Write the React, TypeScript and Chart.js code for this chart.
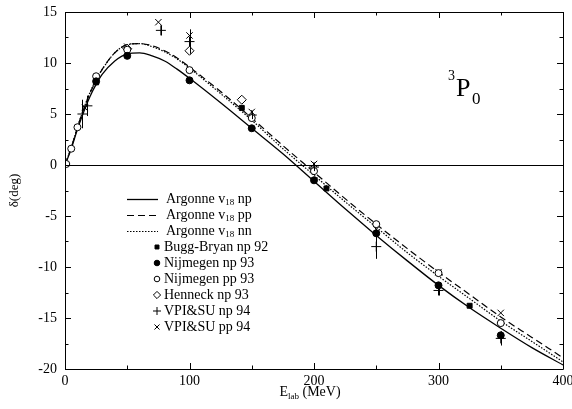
import React, { useEffect, useRef } from 'react';
import { Chart, registerables } from 'chart.js';
import { drawPoint } from 'chart.js/helpers';

Chart.register(...registerables);

// ---- Data ----
const curveE = [0, 2, 5, 10, 15, 20, 25, 30, 40, 50, 60, 70, 80, 90, 100, 125, 150, 175, 200, 225, 250, 275, 300, 325, 350, 375, 400];
const argonneNp = [0, 0.6, 1.6, 3.5, 5.2, 6.7, 7.9, 8.9, 10.2, 10.9, 11.0, 10.7, 10.2, 9.4, 8.5, 6.1, 3.6, 1.1, -1.6, -4.3, -6.9, -9.4, -11.8, -14.0, -16.0, -17.9, -19.6];
const argonnePp = [0, 0.7, 1.7, 3.7, 5.5, 7.0, 8.3, 9.4, 11.0, 11.8, 11.9, 11.7, 11.2, 10.5, 9.6, 7.2, 4.6, 1.9, -0.7, -3.3, -5.8, -8.2, -10.5, -12.7, -14.9, -16.9, -18.9];
const argonneNn = [0, 0.7, 1.7, 3.7, 5.5, 7.1, 8.4, 9.4, 11.0, 11.8, 11.9, 11.6, 11.1, 10.4, 9.5, 7.0, 4.4, 1.6, -1.0, -3.6, -6.1, -8.6, -10.9, -13.1, -15.3, -17.3, -19.3];

const buggE = [25, 142, 210, 325];
const buggD = [8.1, 5.6, -2.3, -13.8];
const nijNpE = [25, 50, 100, 150, 200, 250, 300, 350];
const nijNpD = [8.2, 10.7, 8.3, 3.6, -1.5, -6.7, -11.8, -16.7];
const nijPpE = [1, 5, 10, 25, 50, 100, 150, 200, 250, 300, 350];
const nijPpD = [0.1, 1.6, 3.7, 8.7, 11.3, 9.3, 4.6, -0.6, -5.8, -10.6, -15.5];
const henE = [50, 100, 142];
const henD = [11.4, 11.2, 6.4];
const vpiNpE = [14, 18, 77, 100, 150, 200, 250, 300, 350];
const vpiNpD = [5.0, 5.8, 13.2, 12.1, 4.9, -0.2, -8.0, -12.3, -17.0];
const vpiNpErr = [1.4, 1.0, 0.5, 1.2, 0.4, 0.4, 1.2, 0.5, 0.7];
const vpiPpE = [16, 50, 75, 100, 150, 200, 250, 300, 350];
const vpiPpD = [5.6, 11.6, 14.0, 12.7, 5.2, 0.1, -6.3, -10.5, -14.5];

const xTickValues = [0, 100, 200, 300, 400];
const yTickValues = [-20, -15, -10, -5, 0, 5, 10, 15];

const curveLabels = [
  { main: 'Argonne v', sub: '18', tail: ' np' },
  { main: 'Argonne v', sub: '18', tail: ' pp' },
  { main: 'Argonne v', sub: '18', tail: ' nn' },
];
const markerLabels = ['Bugg-Bryan np 92', 'Nijmegen np 93', 'Nijmegen pp 93', 'Henneck np 93', 'VPI&SU np 94', 'VPI&SU pp 94'];

const SERIF = "'Liberation Serif', 'DejaVu Serif', serif";

const toPts = (xs: number[], ys: number[]) => xs.map((x, i) => ({ x, y: ys[i] }));

const curveStyles = [
  { dash: [] as number[], width: 1.3 },
  { dash: [7, 4], width: 1.2 },
  { dash: [1.5, 1.5], width: 1.2 },
];
const markerStyles = [
  { pointStyle: 'rect', radius: 3.5, fill: '#000' },
  { pointStyle: 'circle', radius: 3.5, fill: '#000' },
  { pointStyle: 'circle', radius: 3.5, fill: '#fff' },
  { pointStyle: 'rectRot', radius: 4.5, fill: '#fff' },
  { pointStyle: 'cross', radius: 5, fill: '#000' },
  { pointStyle: 'crossRot', radius: 4.5, fill: '#000' },
];

const frameTicksPlugin = {
  id: 'frameTicks',
  afterDraw(chart: any) {
    const { ctx, chartArea } = chart;
    const { left, right, top, bottom } = chartArea;
    const xs = chart.scales.x;
    const ys = chart.scales.y;
    ctx.save();
    ctx.strokeStyle = '#000';
    ctx.lineWidth = 1;
    ctx.beginPath();
    ctx.rect(Math.round(left) + 0.5, Math.round(top) + 0.5, Math.round(right - left), Math.round(bottom - top));
    ctx.stroke();
    ctx.beginPath();
    for (let v = xs.min; v <= xs.max; v += 50) {
      const px = Math.round(xs.getPixelForValue(v)) + 0.5;
      const len = v % 100 === 0 ? 6 : 3.5;
      ctx.moveTo(px, bottom); ctx.lineTo(px, bottom - len);
      ctx.moveTo(px, top); ctx.lineTo(px, top + len);
    }
    for (let v = ys.min; v <= ys.max; v += 2.5) {
      const py = Math.round(ys.getPixelForValue(v)) + 0.5;
      const len = v % 5 === 0 ? 6 : 3.5;
      ctx.moveTo(left, py); ctx.lineTo(left + len, py);
      ctx.moveTo(right, py); ctx.lineTo(right - len, py);
    }
    ctx.stroke();
    ctx.restore();
  },
};

const errorBarPlugin = {
  id: 'errorBars',
  afterDatasetsDraw(chart: any) {
    const { ctx } = chart;
    const ys = chart.scales.y;
    ctx.save();
    ctx.strokeStyle = '#000';
    ctx.lineWidth = 1;
    chart.data.datasets.forEach((ds: any, i: number) => {
      if (!ds.errors) return;
      const meta = chart.getDatasetMeta(i);
      meta.data.forEach((pt: any, j: number) => {
        const d = ds.data[j].y;
        const e = ds.errors[j];
        ctx.beginPath();
        ctx.moveTo(Math.round(pt.x) + 0.5, ys.getPixelForValue(d + e));
        ctx.lineTo(Math.round(pt.x) + 0.5, ys.getPixelForValue(d - e));
        ctx.stroke();
      });
    });
    ctx.restore();
  },
};

const annotationPlugin = {
  id: 'annotations',
  afterDraw(chart: any) {
    const { ctx, chartArea } = chart;
    ctx.save();
    ctx.fillStyle = '#000';
    ctx.strokeStyle = '#000';

    // Legend
    const lineX0 = 127, lineX1 = 158, textX = 166, markX = 157, markTextX = 164;
    let rowY = 199;
    const rowH = 16;
    ctx.textBaseline = 'middle';
    ctx.textAlign = 'left';
    curveLabels.forEach((lab, i) => {
      const st = curveStyles[i];
      ctx.beginPath();
      ctx.setLineDash(st.dash);
      ctx.lineWidth = st.width;
      ctx.moveTo(lineX0, rowY + 0.5);
      ctx.lineTo(lineX1, rowY + 0.5);
      ctx.stroke();
      ctx.setLineDash([]);
      ctx.font = `14px ${SERIF}`;
      ctx.fillText(lab.main, textX, rowY);
      let x = textX + ctx.measureText(lab.main).width;
      ctx.font = `9px ${SERIF}`;
      ctx.fillText(lab.sub, x, rowY + 4);
      x += ctx.measureText(lab.sub).width;
      ctx.font = `14px ${SERIF}`;
      ctx.fillText(lab.tail, x, rowY);
      rowY += rowH;
    });
    markerLabels.forEach((lab, i) => {
      const st = markerStyles[i];
      ctx.fillStyle = st.fill;
      ctx.strokeStyle = '#000';
      ctx.lineWidth = 1;
      drawPoint(ctx, { pointStyle: st.pointStyle as any, radius: st.radius * 0.8, borderWidth: 1, rotation: 0 }, markX, rowY);
      ctx.fillStyle = '#000';
      ctx.font = `14px ${SERIF}`;
      ctx.fillText(lab, markTextX, rowY);
      rowY += rowH;
    });

    // x-axis title with subscript
    ctx.textBaseline = 'alphabetic';
    const big = `14px ${SERIF}`;
    const small = `9px ${SERIF}`;
    ctx.font = big;
    const wE = ctx.measureText('E').width;
    const wT = ctx.measureText(' (MeV)').width;
    ctx.font = small;
    const wL = ctx.measureText('lab').width;
    const total = wE + wL + wT;
    let tx = (chartArea.left + chartArea.right) / 2 - total / 2 - 4;
    const ty = 396;
    ctx.font = big; ctx.fillText('E', tx, ty); tx += wE;
    ctx.font = small; ctx.fillText('lab', tx, ty + 3); tx += wL;
    ctx.font = big; ctx.fillText(' (MeV)', tx, ty);

    // 3P0 label
    ctx.font = `14px ${SERIF}`;
    ctx.fillText('3', 448, 80);
    ctx.font = `26px ${SERIF}`;
    ctx.fillText('P', 456, 96);
    ctx.font = `17px ${SERIF}`;
    ctx.fillText('0', 472, 104);

    ctx.restore();
  },
};

export default function App() {
  const ref = useRef<HTMLCanvasElement>(null);
  useEffect(() => {
    const markerSets = [
      toPts(buggE, buggD),
      toPts(nijNpE, nijNpD),
      toPts(nijPpE, nijPpD),
      toPts(henE, henD),
      toPts(vpiNpE, vpiNpD),
      toPts(vpiPpE, vpiPpD),
    ];
    const markerDatasets: any[] = markerSets.map((data, i) => ({
      label: markerLabels[i],
      data,
      showLine: false,
      pointStyle: markerStyles[i].pointStyle,
      pointRadius: markerStyles[i].radius,
      pointBackgroundColor: markerStyles[i].fill,
      pointBorderColor: '#000',
      pointBorderWidth: 1,
      order: 0,
      ...(i === 4 ? { errors: vpiNpErr } : {}),
    }));
    const curves = [argonneNp, argonnePp, argonneNn];
    const curveDatasets: any[] = curves.map((ys, i) => ({
      label: curveLabels[i].main + curveLabels[i].sub + curveLabels[i].tail,
      data: toPts(curveE, ys),
      showLine: true,
      pointRadius: 0,
      borderColor: '#000',
      borderWidth: curveStyles[i].width,
      borderDash: curveStyles[i].dash,
      cubicInterpolationMode: 'monotone',
      fill: false,
      order: 1,
    }));

    const chart = new Chart(ref.current as HTMLCanvasElement, {
      type: 'scatter',
      data: { datasets: [...markerDatasets, ...curveDatasets] },
      options: {
        responsive: false,
        animation: false,
        layout: { padding: { left: 0, top: 12, right: 9, bottom: 0 } },
        plugins: { legend: { display: false }, tooltip: { enabled: false } },
        scales: {
          x: {
            type: 'linear',
            min: 0,
            max: 400,
            afterBuildTicks: (s: any) => { s.ticks = xTickValues.map((v) => ({ value: v })); },
            afterFit: (s: any) => { s.height = 40; s.paddingLeft = 0; s.paddingRight = 0; },
            ticks: { color: '#000', font: { family: SERIF, size: 14 }, padding: 4, maxRotation: 0 },
            grid: { display: false, drawTicks: false },
            border: { display: false },
          },
          y: {
            type: 'linear',
            min: -20,
            max: 15,
            afterBuildTicks: (s: any) => { s.ticks = yTickValues.map((v) => ({ value: v })); },
            afterFit: (s: any) => { s.width = 65; s.paddingTop = 0; s.paddingBottom = 0; },
            ticks: { color: '#000', font: { family: SERIF, size: 14 }, padding: 8 },
            grid: {
              drawTicks: false,
              lineWidth: 1,
              color: (c: any) => (c.tick && c.tick.value === 0 ? '#000' : 'rgba(0,0,0,0)'),
            },
            border: { display: false },
            title: { display: true, text: 'δ(deg)', color: '#000', font: { family: SERIF, size: 13 }, padding: { top: 7, bottom: 0 } },
          },
        },
      },
      plugins: [frameTicksPlugin, errorBarPlugin, annotationPlugin],
    } as any);
    return () => chart.destroy();
  }, []);

  return (
    <div style={{ position: 'absolute', left: 0, top: 0, width: 572, height: 409, background: '#fff' }}>
      <canvas ref={ref} width={572} height={409} style={{ display: 'block', width: 572, height: 409 }} />
    </div>
  );
}
